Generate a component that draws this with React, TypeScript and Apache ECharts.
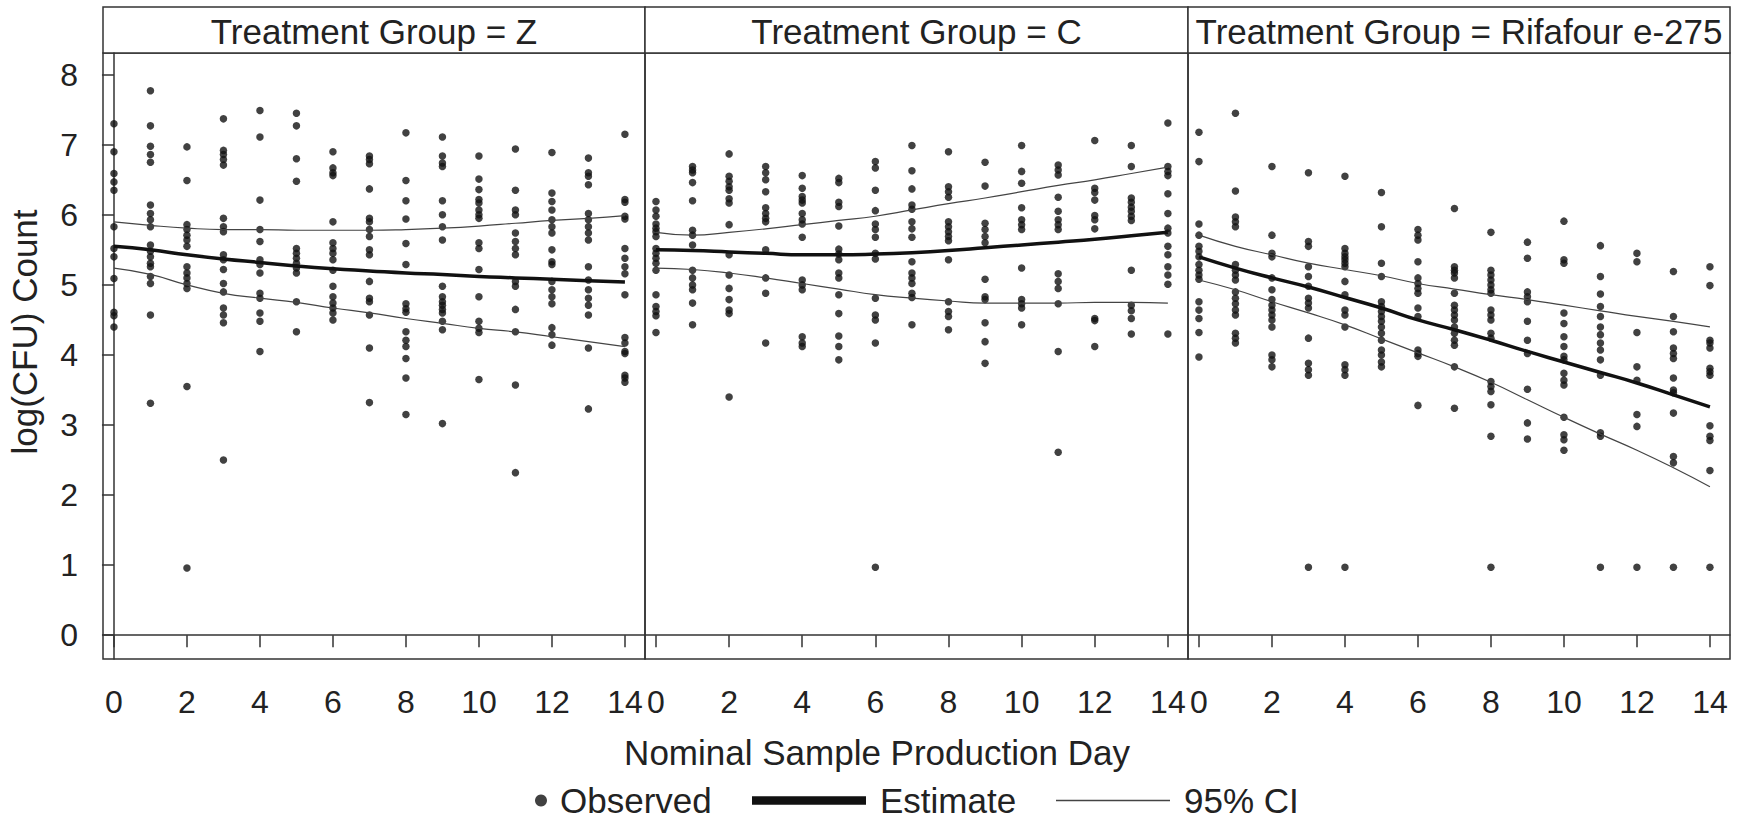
import React, { useEffect, useRef } from "react";
import * as echarts from "echarts";

const FONT = '"Liberation Sans", Arial, Helvetica, sans-serif';

const days = [0, 1, 2, 3, 4, 5, 6, 7, 8, 9, 10, 11, 12, 13, 14];
const xTicks = [0, 2, 4, 6, 8, 10, 12, 14];
const yTicks = [0, 1, 2, 3, 4, 5, 6, 7, 8];
const panelTitles = [
  "Treatment Group = Z",
  "Treatment Group = C",
  "Treatment Group = Rifafour e-275",
];

// Observed log(CFU) values per nominal day (index = day)
const obsZ: number[][] = [
  [7.3, 6.9, 6.59, 6.47, 6.35, 5.83, 5.52, 5.4, 5.09, 4.61, 4.56, 4.4],
  [7.77, 7.27, 6.98, 6.86, 6.75, 6.14, 6.02, 5.93, 5.83, 5.57, 5.48, 5.4, 5.31, 5.26, 5.12, 5.02, 4.57, 3.31],
  [6.97, 6.49, 5.86, 5.79, 5.71, 5.64, 5.55, 5.26, 5.17, 5.1, 5.02, 4.95, 3.55, 0.96],
  [7.37, 6.92, 6.86, 6.79, 6.71, 5.95, 5.83, 5.76, 5.43, 5.36, 5.22, 5.02, 4.9, 4.67, 4.57, 4.46, 2.5],
  [7.49, 7.11, 6.21, 5.79, 5.62, 5.36, 5.29, 5.17, 4.88, 4.81, 4.6, 4.48, 4.05],
  [7.45, 7.27, 6.8, 6.48, 5.52, 5.45, 5.38, 5.31, 5.24, 5.17, 4.76, 4.33],
  [6.9, 6.67, 6.6, 6.56, 5.9, 5.6, 5.52, 5.45, 5.36, 5.21, 4.98, 4.83, 4.74, 4.67, 4.6, 4.5],
  [6.84, 6.79, 6.73, 6.37, 5.95, 5.9, 5.79, 5.69, 5.5, 5.43, 5.05, 4.81, 4.76, 4.57, 4.1, 3.32],
  [7.17, 6.49, 6.2, 5.94, 5.59, 5.29, 4.73, 4.66, 4.61, 4.33, 4.21, 4.12, 3.95, 3.67, 3.15],
  [7.11, 6.84, 6.74, 6.69, 6.2, 6.0, 5.83, 5.64, 4.98, 4.83, 4.76, 4.71, 4.65, 4.6, 4.48, 4.36, 3.02],
  [6.84, 6.51, 6.36, 6.22, 6.17, 6.07, 6.0, 5.95, 5.6, 5.52, 5.22, 4.83, 4.48, 4.38, 4.32, 3.65],
  [6.94, 6.35, 6.07, 6.0, 5.74, 5.62, 5.52, 5.43, 5.05, 4.98, 4.65, 4.33, 3.57, 2.32],
  [6.89, 6.31, 6.19, 6.07, 5.93, 5.83, 5.74, 5.5, 5.33, 5.29, 5.05, 4.93, 4.83, 4.73, 4.39, 4.29, 4.14],
  [6.81, 6.6, 6.55, 6.43, 6.02, 5.93, 5.83, 5.74, 5.64, 5.26, 5.07, 4.93, 4.81, 4.71, 4.57, 4.1, 3.23],
  [7.15, 6.22, 6.18, 5.98, 5.94, 5.52, 5.38, 5.26, 5.16, 4.86, 4.25, 4.17, 4.05, 4.02, 3.71, 3.67, 3.61],
];

const obsC: number[][] = [
  [6.19, 6.07, 5.98, 5.87, 5.81, 5.76, 5.69, 5.52, 5.45, 5.38, 5.31, 5.21, 4.86, 4.69, 4.62, 4.56, 4.32],
  [6.69, 6.64, 6.6, 6.46, 6.2, 5.78, 5.71, 5.57, 5.21, 5.1, 5.0, 4.93, 4.74, 4.43],
  [6.87, 6.55, 6.48, 6.4, 6.35, 6.23, 6.17, 5.86, 5.43, 5.14, 4.95, 4.79, 4.64, 4.59, 3.4],
  [6.69, 6.6, 6.5, 6.33, 6.1, 6.02, 5.95, 5.9, 5.5, 5.1, 4.88, 4.17],
  [6.56, 6.38, 6.26, 6.21, 6.17, 6.02, 5.93, 5.87, 5.68, 5.07, 5.0, 4.93, 4.26, 4.17, 4.12],
  [6.52, 6.46, 6.18, 6.12, 5.84, 5.51, 5.44, 5.36, 5.17, 5.1, 4.86, 4.59, 4.27, 4.12, 3.93],
  [6.76, 6.67, 6.35, 6.06, 5.87, 5.79, 5.68, 5.45, 5.37, 4.81, 4.57, 4.5, 4.17, 0.97],
  [6.99, 6.63, 6.37, 6.14, 6.08, 5.9, 5.8, 5.68, 5.33, 5.17, 5.1, 5.02, 4.88, 4.82, 4.43],
  [6.9, 6.4, 6.33, 6.25, 5.9, 5.83, 5.76, 5.69, 5.63, 5.36, 4.76, 4.62, 4.55, 4.36],
  [6.75, 6.41, 5.88, 5.79, 5.69, 5.6, 5.08, 4.83, 4.79, 4.46, 4.19, 3.88],
  [6.99, 6.62, 6.45, 6.1, 5.93, 5.86, 5.79, 5.24, 4.79, 4.73, 4.67, 4.43],
  [6.71, 6.64, 6.57, 6.25, 6.05, 5.93, 5.86, 5.79, 5.16, 5.05, 4.95, 4.73, 4.05, 2.61],
  [7.06, 6.38, 6.32, 6.21, 5.99, 5.93, 5.8, 4.52, 4.49, 4.12],
  [6.99, 6.69, 6.24, 6.18, 6.11, 6.05, 5.98, 5.92, 5.21, 4.71, 4.63, 4.52, 4.3],
  [7.31, 6.69, 6.62, 6.56, 6.3, 6.02, 5.81, 5.74, 5.55, 5.43, 5.26, 5.14, 5.01, 4.3],
];

const obsR: number[][] = [
  [7.18, 6.76, 5.87, 5.71, 5.55, 5.48, 5.4, 5.29, 5.21, 5.14, 5.08, 4.76, 4.64, 4.52, 4.32, 3.97],
  [7.45, 6.34, 5.97, 5.9, 5.83, 5.29, 5.21, 5.14, 5.07, 4.9, 4.81, 4.73, 4.64, 4.57, 4.31, 4.24, 4.17],
  [6.69, 5.71, 5.45, 5.4, 5.1, 4.93, 4.79, 4.71, 4.64, 4.57, 4.5, 4.4, 4.0, 3.93, 3.83],
  [6.6, 5.62, 5.55, 5.26, 5.12, 4.98, 4.81, 4.74, 4.67, 4.24, 3.88, 3.79, 3.71, 0.97],
  [6.55, 5.52, 5.45, 5.4, 5.36, 5.31, 5.26, 5.05, 4.86, 4.64, 4.57, 4.4, 3.86, 3.79, 3.71, 0.97],
  [6.32, 5.83, 5.31, 5.12, 4.76, 4.69, 4.62, 4.55, 4.48, 4.4, 4.31, 4.21, 4.07, 4.0, 3.9, 3.83],
  [5.79, 5.71, 5.64, 5.33, 5.1, 5.02, 4.95, 4.88, 4.67, 4.55, 4.07, 4.02, 3.98, 3.28],
  [6.09, 5.26, 5.21, 5.17, 5.1, 4.88, 4.71, 4.64, 4.57, 4.5, 4.4, 4.31, 4.21, 4.14, 3.83, 3.24],
  [5.75, 5.21, 5.14, 5.07, 5.0, 4.93, 4.88, 4.64, 4.57, 4.5, 4.31, 4.24, 3.62, 3.55, 3.48, 3.29, 2.84, 0.97],
  [5.61, 5.38, 4.9, 4.83, 4.76, 4.48, 4.21, 4.02, 3.51, 3.03, 2.8],
  [5.91, 5.36, 5.31, 4.6, 4.45, 4.26, 4.12, 3.98, 3.93, 3.74, 3.64, 3.57, 3.11, 2.86, 2.79, 2.64],
  [5.56, 5.12, 4.87, 4.69, 4.55, 4.4, 4.29, 4.17, 4.07, 3.93, 3.71, 2.89, 2.84, 0.97],
  [5.45, 5.33, 4.32, 3.83, 3.64, 3.15, 2.98, 0.97],
  [5.19, 4.55, 4.33, 4.1, 4.02, 3.95, 3.67, 3.5, 3.46, 3.17, 2.55, 2.46, 0.97],
  [5.26, 4.99, 4.21, 4.17, 4.1, 3.81, 3.76, 3.71, 2.99, 2.84, 2.78, 2.35, 0.97],
];

// Model estimate and 95% confidence limits per day
const estZ = [5.55, 5.5, 5.43, 5.37, 5.32, 5.27, 5.23, 5.2, 5.17, 5.15, 5.12, 5.1, 5.08, 5.06, 5.04];
const hiZ = [5.9, 5.85, 5.81, 5.79, 5.79, 5.78, 5.78, 5.78, 5.79, 5.81, 5.84, 5.88, 5.92, 5.95, 5.99];
const loZ = [5.24, 5.15, 5.0, 4.88, 4.81, 4.75, 4.67, 4.6, 4.52, 4.45, 4.38, 4.33, 4.26, 4.19, 4.12];

const estC = [5.5, 5.49, 5.47, 5.45, 5.43, 5.43, 5.44, 5.46, 5.49, 5.53, 5.57, 5.61, 5.65, 5.7, 5.75];
const hiC = [5.75, 5.71, 5.75, 5.8, 5.86, 5.92, 5.98, 6.07, 6.16, 6.24, 6.33, 6.42, 6.5, 6.59, 6.68];
const loC = [5.24, 5.22, 5.17, 5.1, 5.02, 4.94, 4.86, 4.81, 4.77, 4.74, 4.74, 4.74, 4.75, 4.75, 4.74];

const estR = [5.4, 5.24, 5.1, 4.97, 4.82, 4.67, 4.5, 4.36, 4.21, 4.05, 3.9, 3.75, 3.6, 3.43, 3.26];
const hiR = [5.71, 5.55, 5.43, 5.31, 5.22, 5.13, 5.02, 4.94, 4.86, 4.79, 4.71, 4.63, 4.55, 4.48, 4.4];
const loR = [5.07, 4.93, 4.76, 4.6, 4.43, 4.23, 4.03, 3.83, 3.61, 3.36, 3.11, 2.87, 2.64, 2.39, 2.12];

const observed = [obsZ, obsC, obsR];
const estimates = [estZ, estC, estR];
const upper = [hiZ, hiC, hiR];
const lower = [loZ, loC, loR];

// layout
const GRID_TOP = 53;
const GRID_H = 606;
const HEAD_TOP = 7;
const panelLeft = [103, 645, 1188];
const panelWidth = [542, 543, 542];
const TXT = "#222";
const LINE = "#333";

export default function App() {
  const ref = useRef<HTMLDivElement>(null);

  useEffect(() => {
    if (!ref.current) return;
    const chart = echarts.init(ref.current, undefined, { renderer: "svg" });

    const grids = panelLeft.map((l, i) => ({
      left: l,
      top: GRID_TOP,
      width: panelWidth[i],
      height: GRID_H,
      show: true,
      borderColor: LINE,
      borderWidth: 1.5,
      backgroundColor: "transparent",
    }));

    const xAxes = panelLeft.map((_, i) => ({
      type: "value",
      gridIndex: i,
      min: -0.3,
      max: 14.55,
      axisLine: { show: true, lineStyle: { color: LINE, width: 1.5 } },
      axisTick: {
        show: true,
        length: 12,
        customValues: xTicks,
        lineStyle: { color: LINE, width: 1.5 },
      },
      axisLabel: {
        show: true,
        customValues: xTicks,
        margin: 27,
        fontSize: 32,
        color: TXT,
        fontFamily: FONT,
      },
      splitLine: { show: false },
    }));

    const yAxes = panelLeft.map((_, i) => ({
      type: "value",
      gridIndex: i,
      min: -0.34,
      max: 8.31,
      show: i === 0,
      axisLine: { show: true, lineStyle: { color: LINE, width: 1.5 } },
      axisTick: {
        show: true,
        length: 12,
        customValues: yTicks,
        lineStyle: { color: LINE, width: 1.5 },
      },
      axisLabel: {
        show: true,
        customValues: yTicks,
        margin: 25,
        fontSize: 32,
        color: TXT,
        fontFamily: FONT,
      },
      splitLine: { show: false },
    }));

    const series: any[] = [];
    for (let p = 0; p < 3; p++) {
      const pts: number[][] = [];
      observed[p].forEach((vals, d) => vals.forEach((v) => pts.push([days[d], v])));
      series.push({
        name: "Observed",
        type: "scatter",
        xAxisIndex: p,
        yAxisIndex: p,
        data: pts,
        symbol: "circle",
        symbolSize: 7.5,
        itemStyle: { color: "#111" },
        z: 3,
      });
      series.push({
        name: "Estimate",
        type: "line",
        xAxisIndex: p,
        yAxisIndex: p,
        data: days.map((d, k) => [d, estimates[p][k]]),
        showSymbol: false,
        symbol: "none",
        smooth: true,
        itemStyle: { color: "#111" },
        lineStyle: { color: "#111", width: 3.5 },
        z: 4,
      });
      [upper[p], lower[p]].forEach((arr) =>
        series.push({
          name: "95% CI",
          type: "line",
          xAxisIndex: p,
          yAxisIndex: p,
          data: days.map((d, k) => [d, arr[k]]),
          showSymbol: false,
          symbol: "none",
          smooth: true,
          itemStyle: { color: "#444" },
          lineStyle: { color: "#444", width: 1.2 },
          z: 4,
        })
      );
    }

    const legendText = { fontSize: 35, lineHeight: 28, color: TXT, fontFamily: FONT };

    const graphic: any[] = [];
    panelLeft.forEach((l, i) => {
      graphic.push({
        type: "rect",
        shape: { x: l, y: HEAD_TOP, width: panelWidth[i], height: GRID_TOP - HEAD_TOP },
        style: { fill: "#fff", stroke: LINE, lineWidth: 1.5 },
        silent: true,
      });
      graphic.push({
        type: "text",
        x: l + panelWidth[i] / 2,
        y: (HEAD_TOP + GRID_TOP) / 2 + 1,
        style: {
          text: panelTitles[i],
          fontSize: 35,
          fontFamily: FONT,
          fill: TXT,
          align: "center",
          verticalAlign: "middle",
        },
        silent: true,
      });
    });
    graphic.push({
      type: "text",
      x: 877,
      y: 752,
      style: {
        text: "Nominal Sample Production Day",
        fontSize: 35,
        fontFamily: FONT,
        fill: TXT,
        align: "center",
        verticalAlign: "middle",
      },
      silent: true,
    });
    graphic.push({
      type: "text",
      x: 24,
      y: 332,
      rotation: Math.PI / 2,
      style: {
        text: "log(CFU) Count",
        fontSize: 35,
        fontFamily: FONT,
        fill: TXT,
        align: "center",
        verticalAlign: "middle",
      },
      silent: true,
    });

    chart.setOption({
      animation: false,
      backgroundColor: "#fff",
      grid: grids,
      xAxis: xAxes,
      yAxis: yAxes,
      series,
      graphic,
      legend: [
        {
          data: [{ name: "Observed", icon: "circle" }],
          left: 535,
          top: 783,
          padding: 0,
          itemWidth: 12,
          itemHeight: 12,
          selectedMode: false,
          textStyle: { ...legendText, padding: [0, 0, 0, 8] },
        },
        {
          data: [{ name: "Estimate", icon: "rect" }],
          left: 752,
          top: 783,
          padding: 0,
          itemWidth: 114,
          itemHeight: 8.5,
          selectedMode: false,
          textStyle: { ...legendText, padding: [0, 0, 0, 9] },
        },
        {
          data: [{ name: "95% CI", icon: "rect" }],
          left: 1056,
          top: 783,
          padding: 0,
          itemWidth: 114,
          itemHeight: 1.5,
          selectedMode: false,
          textStyle: { ...legendText, padding: [0, 0, 0, 9] },
        },
      ],
    });

    return () => chart.dispose();
  }, []);

  return (
    <div
      ref={ref}
      style={{ position: "fixed", left: 0, top: 0, width: 1744, height: 819, background: "#fff" }}
    />
  );
}
